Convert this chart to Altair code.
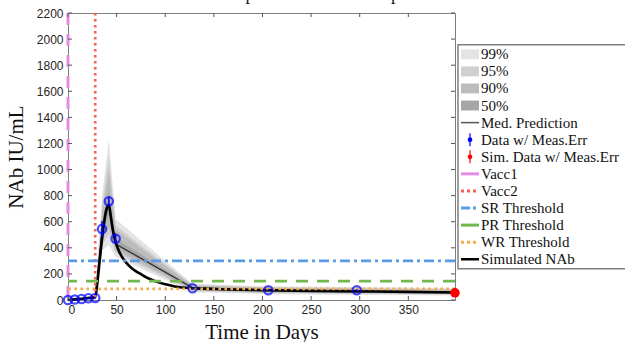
import altair as alt
import pandas as pd

# ---------------- data ----------------
t_pts = [0, 7, 14, 21, 28, 35, 42, 49, 128, 206, 297, 398]
med = [0, 3, 8, 12, 20, 540, 740, 430, 95, 75, 68, 58]
lo99 = [0, 0, 0, 0, 0, 380, 420, 330, 60, 45, 40, 35]
hi99 = [5, 10, 20, 30, 45, 800, 1230, 620, 125, 105, 100, 90]
lo95 = [0, 0, 2, 4, 8, 420, 500, 360, 68, 52, 47, 42]
hi95 = [4, 8, 16, 24, 38, 720, 1100, 570, 118, 98, 92, 82]
lo90 = [0, 1, 4, 6, 11, 450, 560, 380, 74, 57, 52, 46]
hi90 = [3, 7, 14, 20, 33, 670, 1000, 540, 112, 93, 86, 76]
lo50 = [0, 2, 6, 9, 16, 500, 660, 410, 85, 67, 61, 53]
hi50 = [2, 5, 11, 16, 26, 590, 840, 470, 102, 83, 76, 66]

data_days = [0, 7, 14, 21, 28, 35, 42, 49, 128, 206, 297]
data_vals = [0, 4, 8, 14, 16, 545, 757, 469, 90, 75, 75]
data_err = [3, 3, 4, 5, 5, 60, 35, 40, 8, 8, 8]

sim_pt_day = [398]
sim_pt_val = [55]

sim_days = [0, 7, 14, 21, 28, 30, 33, 36, 39, 42, 44, 46, 48, 50, 53, 56, 60,
            65, 70, 75, 80, 90, 100, 110, 128, 150, 200, 250, 300, 350, 398]
sim_vals = [0, 5, 10, 15, 22, 120, 330, 530, 680, 730, 640, 540, 470, 420, 365,
            325, 285, 248, 220, 198, 175, 143, 120, 104, 90, 84, 76, 70, 66, 62, 58]

vacc1_day = 0
vacc2_day = 28
sr_thr = 300
pr_thr = 145
wr_thr = 86

x_ticks = [0, 50, 100, 150, 200, 250, 300, 350]
y_ticks = list(range(0, 2201, 200))

legend_labels = ["99%", "95%", "90%", "50%", "Med. Prediction", "Data w/ Meas.Err",
                 "Sim. Data w/ Meas.Err", "Vacc1", "Vacc2", "SR Threshold",
                 "PR Threshold", "WR Threshold", "Simulated NAb"]

band_colors = {"99": "#e4e4e4", "95": "#d0d0d0", "90": "#bcbcbc", "50": "#a6a6a6"}
C_VACC1 = "#e38be3"
C_VACC2 = "#f4604f"
C_SR = "#5b9be6"
C_PR = "#72b84f"
C_WR = "#f8aa4c"

W, H = 387, 287
SERIF = "Liberation Serif"
SANS = "Liberation Sans"

xs = alt.Scale(domain=[0, 398], nice=False, zero=False)
ys = alt.Scale(domain=[0, 2200], nice=False)

bands = pd.DataFrame({"t": t_pts, "med": med,
                      "lo99": lo99, "hi99": hi99, "lo95": lo95, "hi95": hi95,
                      "lo90": lo90, "hi90": hi90, "lo50": lo50, "hi50": hi50})
ddf = pd.DataFrame({"t": data_days, "v": data_vals, "e": data_err})
ddf["lo"] = ddf["v"] - ddf["e"]
ddf["hi"] = ddf["v"] + ddf["e"]
sdf = pd.DataFrame({"t": sim_days, "v": sim_vals})
rdf = pd.DataFrame({"t": sim_pt_day, "v": sim_pt_val})

xax = alt.Axis(values=x_ticks, ticks=False, domain=False, grid=False, labelFont=SANS,
               labelFontSize=12, labelColor="#262626", labelPadding=4, format="d",
               labelOverlap=False,
               title="Time in Days", titleFont=SERIF, titleFontSize=21,
               titleFontWeight="normal", titleColor="#111111", titlePadding=6)
yax = alt.Axis(values=y_ticks, ticks=False, domain=False, grid=False, labelFont=SANS,
               labelFontSize=12, labelColor="#262626", labelPadding=5, format="d",
               labelOverlap=False,
               title="NAb IU/mL", titleFont=SERIF, titleFontSize=21,
               titleFontWeight="normal", titleColor="#111111", titlePadding=10)


def X(field):
    return alt.X(field, scale=xs, axis=xax, title="Time in Days")


def Y(field):
    return alt.Y(field, scale=ys, axis=yax, title="NAb IU/mL")


base = alt.Chart(bands)
layers = []
for lvl in ["99", "95", "90", "50"]:
    layers.append(base.mark_area(color=band_colors[lvl], opacity=1).encode(
        x=X("t:Q"), y=Y(f"lo{lvl}:Q"), y2=f"hi{lvl}:Q"))

layers.append(base.mark_line(color="#222222", strokeWidth=1.1).encode(
    x=X("t:Q"), y=Y("med:Q")))

layers.append(alt.Chart(sdf).mark_line(color="black", strokeWidth=2.6, interpolate="monotone").encode(
    x=X("t:Q"), y=Y("v:Q")))

layers.append(alt.Chart(pd.DataFrame({"x": [vacc1_day]})).mark_rule(
    color=C_VACC1, strokeWidth=3, strokeDash=[12, 9]).encode(x=X("x:Q")))
layers.append(alt.Chart(pd.DataFrame({"x": [vacc2_day]})).mark_rule(
    color=C_VACC2, strokeWidth=2.6, strokeDash=[2.6, 3.4]).encode(x=X("x:Q")))
layers.append(alt.Chart(pd.DataFrame({"y": [sr_thr]})).mark_rule(
    color=C_SR, strokeWidth=2.8, strokeDash=[10, 4, 3, 4]).encode(y=Y("y:Q")))
layers.append(alt.Chart(pd.DataFrame({"y": [pr_thr]})).mark_rule(
    color=C_PR, strokeWidth=2.8, strokeDash=[12, 9]).encode(y=Y("y:Q")))
layers.append(alt.Chart(pd.DataFrame({"y": [wr_thr]})).mark_rule(
    color=C_WR, strokeWidth=2.8, strokeDash=[2.6, 3.4]).encode(y=Y("y:Q")))

layers.append(alt.Chart(ddf).mark_rule(color="#0000ff", strokeWidth=1.5).encode(
    x=X("t:Q"), y=Y("lo:Q"), y2="hi:Q"))
layers.append(alt.Chart(ddf).mark_point(color="#0000ff", filled=False, size=70, strokeWidth=2.2).encode(
    x=X("t:Q"), y=Y("v:Q")))
layers.append(alt.Chart(rdf).mark_point(color="#ff0000", filled=True, size=90, opacity=1).encode(
    x=X("t:Q"), y=Y("v:Q")))

# inward tick marks on all four sides
xt = alt.Chart(pd.DataFrame({"t": x_ticks}))
yt = alt.Chart(pd.DataFrame({"v": y_ticks}))
TC = "#555555"
layers.append(xt.mark_rule(color=TC, strokeWidth=1).encode(
    x=X("t:Q"), y=alt.value(H), y2=alt.value(H - 4)))
layers.append(xt.mark_rule(color=TC, strokeWidth=1).encode(
    x=X("t:Q"), y=alt.value(0), y2=alt.value(4)))
layers.append(yt.mark_rule(color=TC, strokeWidth=1).encode(
    y=Y("v:Q"), x=alt.value(0), x2=alt.value(4)))
layers.append(yt.mark_rule(color=TC, strokeWidth=1).encode(
    y=Y("v:Q"), x=alt.value(W), x2=alt.value(W - 4)))

# partially visible title (cropped at the top of the figure)
layers.append(alt.Chart(pd.DataFrame({"s": ["Model Response vs Actual Response"]})).mark_text(
    font=SERIF, fontSize=18, align="right", baseline="alphabetic", color="#111111").encode(
    text="s:N", x=alt.value(365), y=alt.value(-13)))

main = alt.layer(*layers)

# ---------------- legend (drawn to the right of the plot) ----------------
LX = W + 3  # left edge of legend box, in plot pixels
ly = alt.Scale(domain=[-2.418, 14.385], reverse=True, nice=False, zero=False)
leg = pd.DataFrame({"idx": list(range(len(legend_labels))), "label": legend_labels})
leg["a"] = leg["idx"] - 0.29
leg["b"] = leg["idx"] + 0.29
leg["ea"] = leg["idx"] - 0.38
leg["eb"] = leg["idx"] + 0.38


def LY(field):
    return alt.Y(field, scale=ly, axis=None)


llayers = [alt.Chart(pd.DataFrame({"top": [-0.56], "bot": [12.55]})).mark_rect(
    fill="white", stroke="#808080", strokeWidth=1.5).encode(
    x=alt.value(LX), x2=alt.value(LX + 400), y=LY("top:Q"), y2="bot:Q")]

sw_colors = ["#e4e4e4", "#d0d0d0", "#bcbcbc", "#a6a6a6"]
for i, c in enumerate(sw_colors):
    llayers.append(alt.Chart(leg[leg["idx"] == i]).mark_rect(color=c).encode(
        x=alt.value(LX + 3), x2=alt.value(LX + 21), y=LY("a:Q"), y2="b:Q"))


def leg_line(i, color, width, dash=None):
    kw = dict(color=color, strokeWidth=width)
    if dash is not None:
        kw["strokeDash"] = dash
    return alt.Chart(leg[leg["idx"] == i]).mark_rule(**kw).encode(
        x=alt.value(LX + 3), x2=alt.value(LX + 21), y=LY("idx:Q"))


llayers.append(leg_line(4, "#555555", 1.5))
llayers.append(leg_line(7, C_VACC1, 3))
llayers.append(leg_line(8, C_VACC2, 3, [3, 3]))
llayers.append(leg_line(9, C_SR, 3, [9, 3, 3, 3]))
llayers.append(leg_line(10, C_PR, 3))
llayers.append(leg_line(11, C_WR, 3, [3, 3]))
llayers.append(leg_line(12, "black", 2.5))

for i, c in [(5, "#0000ff"), (6, "#ff0000")]:
    sub = alt.Chart(leg[leg["idx"] == i])
    llayers.append(sub.mark_rule(color=c, strokeWidth=1.2).encode(
        x=alt.value(LX + 12), y=LY("ea:Q"), y2="eb:Q"))
    llayers.append(sub.mark_point(color=c, filled=True, size=22, opacity=1).encode(
        x=alt.value(LX + 12), y=LY("idx:Q")))

llayers.append(alt.Chart(leg).mark_text(font=SERIF, fontSize=15, align="left",
                                         baseline="middle", color="#111111").encode(
    x=alt.value(LX + 23), y=LY("idx:Q"), text="label:N"))

legend = alt.layer(*llayers)

chart = alt.layer(main, legend).resolve_scale(y="independent").properties(
    width=W, height=H,
    autosize=alt.AutoSizeParams(type="none"),
    padding={"left": 68, "top": 13, "right": 170, "bottom": 42},
    background="white",
).configure_view(stroke="#7f7f7f", strokeWidth=1)

chart.save("out.html", embed_options={"renderer": "svg", "actions": False})
